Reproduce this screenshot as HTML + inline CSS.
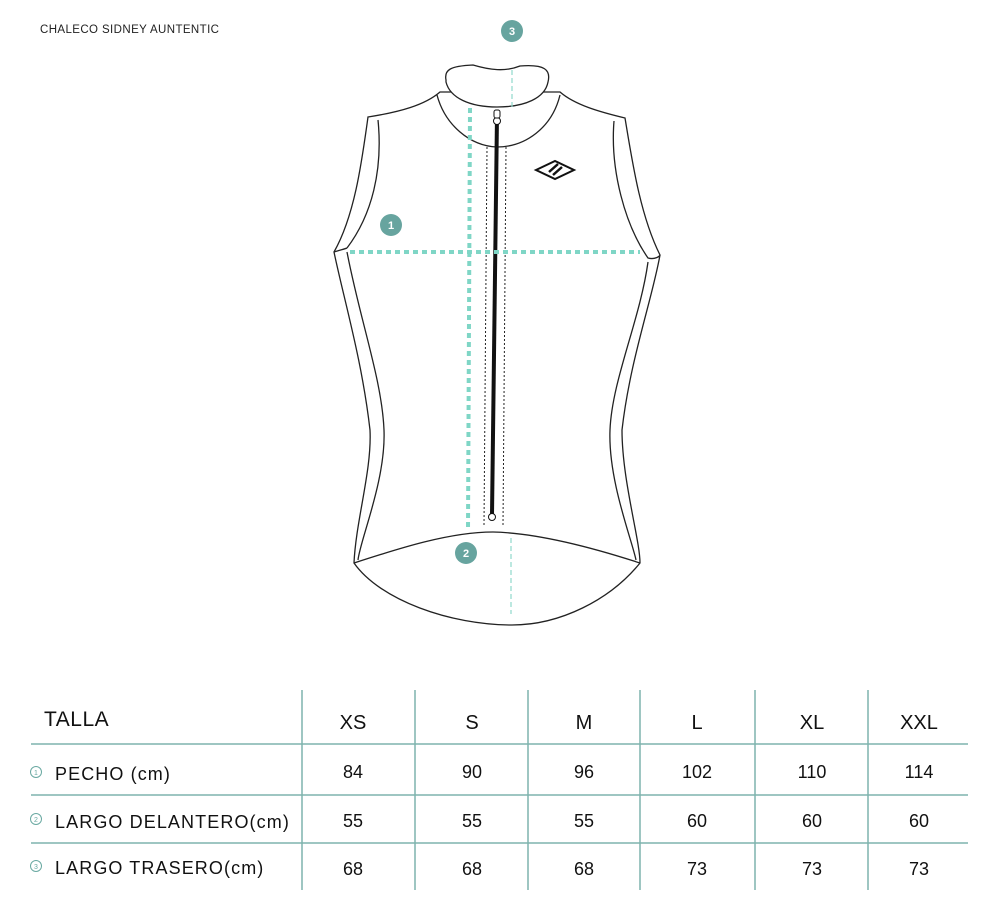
<!DOCTYPE html>
<html><head><meta charset="utf-8"><style>
body{margin:0;background:#fff;width:991px;height:909px;overflow:hidden}
svg{display:block}
text{font-family:"Liberation Sans",sans-serif}
</style></head><body>
<svg width="991" height="909" viewBox="0 0 991 909" xmlns="http://www.w3.org/2000/svg">
<text x="40" y="33" font-size="11.5" fill="#222" letter-spacing="0.4">CHALECO SIDNEY AUNTENTIC</text>
<g fill="#fff" stroke="#222" stroke-width="1.3">
<path d="M368,117 C400,112 425,105 440,92 L560,92 C575,105 600,112 625,118 C632,160 640,215 660,255 C652,300 630,360 622,430 C622,480 640,540 640,563 C610,600 560,625 512,625 C450,625 380,600 354,563 C356,520 372,470 370,430 C362,360 344,300 334,252 C355,215 362,160 368,117 Z"/>
<path d="M378,120 C383,170 372,215 347,248" fill="none"/>
<path d="M334,252 C340,250 345,249 347,248" fill="none"/>
<path d="M614,121 C610,170 625,225 648,258 C655,260 660,256 660,255" fill="none"/>
<path d="M347,252 C360,320 382,380 384,430 C386,480 360,540 358,560" fill="none"/>
<path d="M648,262 C640,320 612,380 610,430 C608,480 632,540 636,560" fill="none"/>
<path d="M354,563 C400,548 450,532 493,532 C540,533 600,550 640,563" fill="none"/>
<path d="M437,95 C445,125 470,146 497,147 C525,147 552,128 560,95" />
<path d="M446,80 C444,70 450,66 473,65 C490,70 505,72 520,66 C545,64 551,70 548,82 C545,98 525,107 497,107 C470,107 450,98 446,82 Z"/>
</g>
<line x1="487" y1="147" x2="484" y2="525" stroke="#222" stroke-width="1" stroke-dasharray="2,2"/>
<line x1="506" y1="147" x2="503" y2="525" stroke="#222" stroke-width="1" stroke-dasharray="2,2"/>
<line x1="497" y1="115" x2="492" y2="515" stroke="#111" stroke-width="4"/>
<circle cx="497" cy="121" r="3.5" fill="#fff" stroke="#111"/>
<circle cx="492" cy="517" r="3.5" fill="#fff" stroke="#111"/>
<rect x="494" y="110" width="6" height="8" rx="2" fill="#fff" stroke="#111"/>
<path d="M536,170 L555,161 L574,170 L555,179 Z" fill="none" stroke="#111" stroke-width="2"/>
<path d="M549,172 L558,164 M553,175 L562,167" stroke="#111" stroke-width="2.5"/>
<line x1="350" y1="252" x2="640" y2="252" stroke="#7fd6c6" stroke-width="4" stroke-dasharray="5,4"/>
<line x1="470" y1="108" x2="468" y2="530" stroke="#7fd6c6" stroke-width="4" stroke-dasharray="5,4"/>
<line x1="512" y1="70" x2="512" y2="108" stroke="#8fd9cc" stroke-width="1.2" stroke-dasharray="5,3"/>
<line x1="511" y1="538" x2="511" y2="614" stroke="#8fd9cc" stroke-width="1.2" stroke-dasharray="5,3"/>
<g font-size="11" font-weight="bold" fill="#fff" text-anchor="middle">
<circle cx="512" cy="31" r="11" fill="#67a49f"/><text x="512" y="35">3</text>
<circle cx="391" cy="225" r="11" fill="#67a49f"/><text x="391" y="229">1</text>
<circle cx="466" cy="553" r="11" fill="#67a49f"/><text x="466" y="557">2</text>
</g>
<g stroke="#7fb3ad" stroke-width="1.5">
<line x1="31" y1="744" x2="968" y2="744"/>
<line x1="31" y1="795" x2="968" y2="795"/>
<line x1="31" y1="843" x2="968" y2="843"/>
<line x1="302" y1="690" x2="302" y2="890"/>
<line x1="415" y1="690" x2="415" y2="890"/>
<line x1="528" y1="690" x2="528" y2="890"/>
<line x1="640" y1="690" x2="640" y2="890"/>
<line x1="755" y1="690" x2="755" y2="890"/>
<line x1="868" y1="690" x2="868" y2="890"/>
</g>
<g fill="#111">
<text x="44" y="726" font-size="21" letter-spacing="0.5">TALLA</text>
<g font-size="20" text-anchor="middle">
<text x="353" y="729">XS</text><text x="472" y="729">S</text><text x="584" y="729">M</text><text x="697" y="729">L</text><text x="812" y="729">XL</text><text x="919" y="729">XXL</text>
</g>
<g font-size="18" letter-spacing="1.1">
<text x="55" y="780">PECHO (cm)</text>
<text x="55" y="828">LARGO DELANTERO(cm)</text>
<text x="55" y="874">LARGO TRASERO(cm)</text>
</g>
<g font-size="18" text-anchor="middle">
<text x="353" y="778">84</text><text x="472" y="778">90</text><text x="584" y="778">96</text><text x="697" y="778">102</text><text x="812" y="778">110</text><text x="919" y="778">114</text>
<text x="353" y="827">55</text><text x="472" y="827">55</text><text x="584" y="827">55</text><text x="697" y="827">60</text><text x="812" y="827">60</text><text x="919" y="827">60</text>
<text x="353" y="875">68</text><text x="472" y="875">68</text><text x="584" y="875">68</text><text x="697" y="875">73</text><text x="812" y="875">73</text><text x="919" y="875">73</text>
</g>
</g>
<g fill="none" stroke="#6aa9a2" stroke-width="1">
<circle cx="36" cy="772" r="5.5"/><circle cx="36" cy="819" r="5.5"/><circle cx="36" cy="866" r="5.5"/>
</g>
<g font-size="7" fill="#6aa9a2" text-anchor="middle">
<text x="36" y="775">1</text><text x="36" y="822">2</text><text x="36" y="869">3</text>
</g>
</svg>
</body></html>
